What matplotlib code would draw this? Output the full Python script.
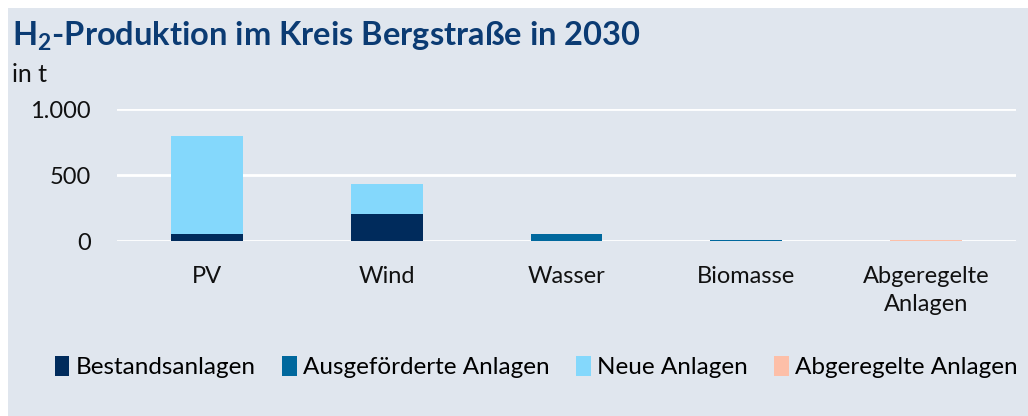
import numpy as np
import matplotlib.pyplot as plt
from matplotlib.patches import Rectangle

plt.rcParams['font.family'] = ['Lato', 'DejaVu Sans']
plt.rcParams['mathtext.fontset'] = 'custom'
plt.rcParams['mathtext.rm'] = 'Lato'
plt.rcParams['mathtext.bf'] = 'Lato:bold'

# Data
categories = ['PV', 'Wind', 'Wasser', 'Biomasse', 'Abgeregelte\nAnlagen']
series_names = ['Bestandsanlagen', 'Ausgeförderte Anlagen', 'Neue Anlagen', 'Abgeregelte Anlagen']
bestand = [55, 205, 0, 3, 0]
ausgefoerdert = [0, 0, 55, 5, 0]
neu = [740, 227, 0, 0, 0]
abgeregelt = [0, 0, 0, 0, 5]
colors = ['#002B5C', '#00689D', '#84D8FC', '#FDBFA8']
yticks = [0, 500, 1000]
yticklabels = ['0', '500', '1.000']

bg = '#E0E6EE'
fig = plt.figure(figsize=(10.28, 4.16), dpi=100)
fig.patch.set_facecolor('white')
fig.patches.append(Rectangle((8 / 1028, 0), 1, 1 - 8 / 416, transform=fig.transFigure,
                             facecolor=bg, edgecolor='none', zorder=-10))

ax = fig.add_axes([117 / 1028, 1 - 241 / 416, (1016 - 117) / 1028, (241 - 109) / 416])
ax.set_facecolor('none')
ax.set_zorder(5)

x = np.arange(len(categories))
bottom = np.zeros(len(categories))
for vals, name, c in zip([bestand, ausgefoerdert, neu, abgeregelt], series_names, colors):
    ax.bar(x, vals, width=0.4, bottom=bottom, color=c, label=name, zorder=3)
    bottom += np.array(vals)

ax.set_ylim(0, 1000)
ax.set_xlim(-0.5, len(categories) - 0.5)
ax.set_yticks(yticks)
ax.set_yticklabels(yticklabels)
ax.yaxis.grid(True, color='white', linewidth=2, zorder=1)
ax.set_axisbelow(True)
for s in ax.spines.values():
    s.set_visible(False)
ax.tick_params(length=0, labelsize=17, colors='#111111')
ax.tick_params(axis='y', pad=19)
ax.tick_params(axis='x', pad=18)
ax.set_xticks(x)
ax.set_xticklabels(categories, linespacing=1.4)

fig.text(12 / 1028, 1 - 36 / 416, r'H$_\mathbf{2}$-Produktion im Kreis Bergstraße in 2030', fontsize=23.5,
         fontweight='bold', color='#0B3B73', va='center', ha='left')
fig.text(12 / 1028, 1 - 74 / 416, 'in t', fontsize=18, color='#111111', va='center', ha='left')

fig.legend(loc='center left', bbox_to_anchor=(45 / 1028, 1 - 367 / 416), ncol=4, frameon=False,
           fontsize=17.5, handlelength=0.6, handleheight=0.9, handletextpad=0.25, columnspacing=1.1,
           borderaxespad=0)

fig.savefig('out.png', dpi=100, facecolor=fig.get_facecolor())
